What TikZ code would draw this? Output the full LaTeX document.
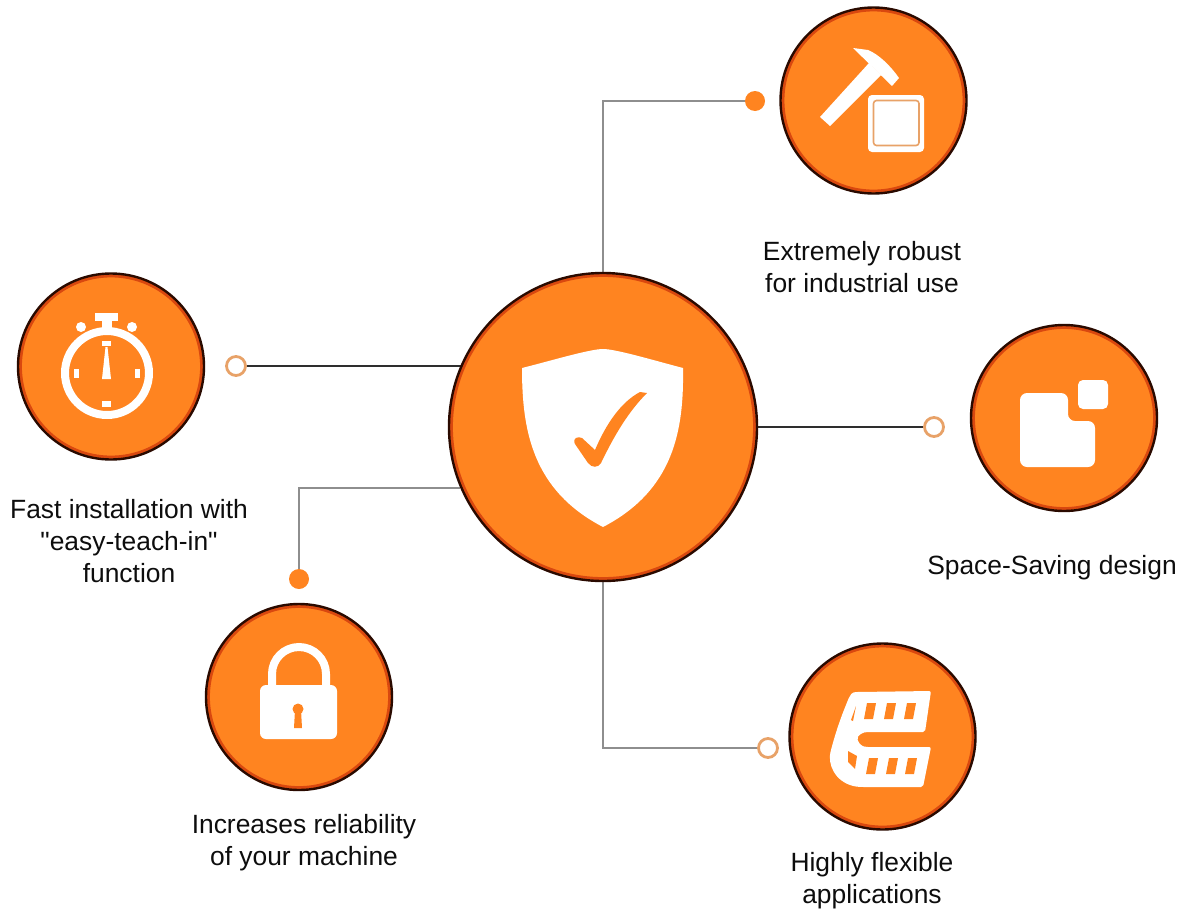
\documentclass[tikz,border=0pt]{standalone}
\usepackage{fontspec}
\setmainfont{Liberation Sans}[Ligatures=TeXOff]
\usetikzlibrary{backgrounds}
\definecolor{brand}{HTML}{FF8420}
\definecolor{rimdark}{HTML}{2A0A00}
\definecolor{rimred}{HTML}{D9480F}
\definecolor{ringtan}{HTML}{E8A268}
\definecolor{wiregray}{HTML}{8E8E8E}
\definecolor{wiredark}{HTML}{2E2E2E}
\tikzset{
  badge/.style={circle,inner sep=0pt,minimum size=2*#1,fill=brand,draw=rimdark,line width=2.4pt,
    path picture={\draw[rimred,line width=3pt] (path picture bounding box.center) circle ({#1-2.4pt});}},
  opendot/.style={circle,inner sep=0pt,minimum size=19pt,fill=white,draw=ringtan,line width=2.8pt},
  soliddot/.style={circle,inner sep=0pt,minimum size=20pt,fill=brand,draw=none},
  caption/.style={font=\fontsize{26.4}{32}\selectfont,align=center,inner sep=0pt,text=black!95},
  wiredk/.style={draw=wiredark,line width=1.8pt},
  wiregr/.style={draw=wiregray,line width=2.2pt},
  icon/.style={fill=white,draw=none},
  iconcut/.style={fill=brand,draw=none},
}
\begin{document}
\begin{tikzpicture}[x=1pt,y=-1pt]
\useasboundingbox (0,0) rectangle (1182,910);
% badges
\node[badge=154pt] (main) at (603,427) {};
\node[badge=93pt] (hammer) at (873.5,100.5) {};
\node[badge=93pt] (watch) at (111,366.5) {};
\node[badge=93pt] (lock) at (299,697) {};
\node[badge=93pt] (chain) at (882.5,736.5) {};
\node[badge=93pt] (space) at (1064,418) {};
% end points
\node[soliddot] (dotT) at (755,101) {};
\node[opendot] (ringL) at (236,366) {};
\node[opendot] (ringR) at (934,427) {};
\node[soliddot] (dotLL) at (299,579) {};
\node[opendot] (ringB) at (768,748) {};
% connectors
\begin{scope}[on background layer]
\draw[wiregr] (main.90) |- (dotT.west);
\draw[wiredk] (ringL.east) -- (ringL.east -| main.156.7);
\draw[wiredk] (main.0) -- (ringR.west);
\draw[wiregr] (dotLL.north) |- (main.203.7);
\draw[wiregr] (main.270) |- (ringB.west);
\end{scope}
% shield
\fill[icon] (603,349) .. controls (590,349) and (550,361) .. (522,368)
  .. controls (522,430) and (532,490) .. (603,527)
  .. controls (674,490) and (684,430) .. (683,368)
  .. controls (656,361) and (616,349) .. (603,349) -- cycle;
\fill[iconcut] (582,438) .. controls (578,436) and (572,438) .. (575,444)
  -- (588,463) .. controls (592,468) and (598,468) .. (601,463)
  .. controls (614,436) and (628,412) .. (647,393) -- (640,392)
  .. controls (621,402) and (606,424) .. (595,450) -- cycle;
% hammer
\fill[icon] (820,117) -- (830,126) -- (881,75) -- (869,63) -- cycle;
\fill[icon] (853,48) -- (868,50) .. controls (878,54) and (890,65) .. (899,78) -- (892,86) -- cycle;
\fill[icon,rounded corners=4pt] (868,95) rectangle (924,152);
\draw[draw=ringtan,line width=1.6pt,fill=white,rounded corners=3pt] (873.5,100.5) rectangle (919,145.5);
% stopwatch
\draw[white,line width=8pt] (107,373) circle (42pt);
\fill[icon] (95,313) rectangle (118,321);
\fill[icon] (102,320) rectangle (112,331);
\fill[icon] (81,327) circle (5pt);
\fill[icon] (132,327) circle (5pt);
\fill[icon] (102,341) rectangle (111,346);
\fill[icon] (102,401) rectangle (111,407);
\fill[icon] (73.5,369) rectangle (79,378);
\fill[icon] (134.5,369) rectangle (140,378);
\fill[icon] (102,379) -- (111,379) -- (107.5,347) -- (105.5,347) -- cycle;
% lock
\draw[white,line width=8pt] (272,686) -- (272,674) arc[start angle=180,end angle=360,x radius=27pt,y radius=-27pt] -- (326,686);
\fill[icon,rounded corners=6pt] (260,685) rectangle (337,739);
\fill[iconcut] (298,709) circle (5.5pt);
\fill[iconcut] (295,710) -- (301,710) -- (302,728) -- (294,728) -- cycle;
% chain
\fill[icon,rounded corners=2pt] (931,691) -- (925,732) -- (866,732) .. controls (862,733) and (859,735) .. (857,738)
  .. controls (859,744) and (862,746) .. (866,747) -- (931,747) -- (923,787) -- (862,787)
  .. controls (840,786) and (829,770) .. (830,754)
  .. controls (836,730) and (843,712) .. (848,700) .. controls (850,695) and (852,692) .. (858,692) -- cycle;
\foreach \hx/\hy in {870/711,890/711,910/711,872/766,892/766,911/766}
  \fill[iconcut] (\hx-3,\hy-8) -- (\hx+6,\hy-8) -- (\hx+3,\hy+8) -- (\hx-6,\hy+8) -- cycle;
\fill[iconcut] (856,706) -- (851,720) -- (853,721) -- cycle;
\fill[iconcut] (848,751) -- (857,756) -- (855,769) -- (848,762) -- cycle;
% squares
\fill[icon,rounded corners=7pt] (1020,393) -- (1068,393) -- (1068,421) -- (1095,421) -- (1095,467) -- (1020,467) -- cycle;
\fill[icon,rounded corners=5pt] (1078,380) rectangle (1108,409);
% labels
\node[caption] (tHammer) at (862,267) {Extremely robust\\for industrial use};
\node[caption] (tWatch) at (129,541) {Fast installation with\\"easy-teach-in"\\function};
\node[caption] (tSpace) at (1052,568) {Space-Saving design};
\node[caption] (tLock) at (304,842.5) {Increases reliability\\of your machine};
\node[caption] (tChain) at (872,881) {Highly flexible\\applications};
\end{tikzpicture}
\end{document}
